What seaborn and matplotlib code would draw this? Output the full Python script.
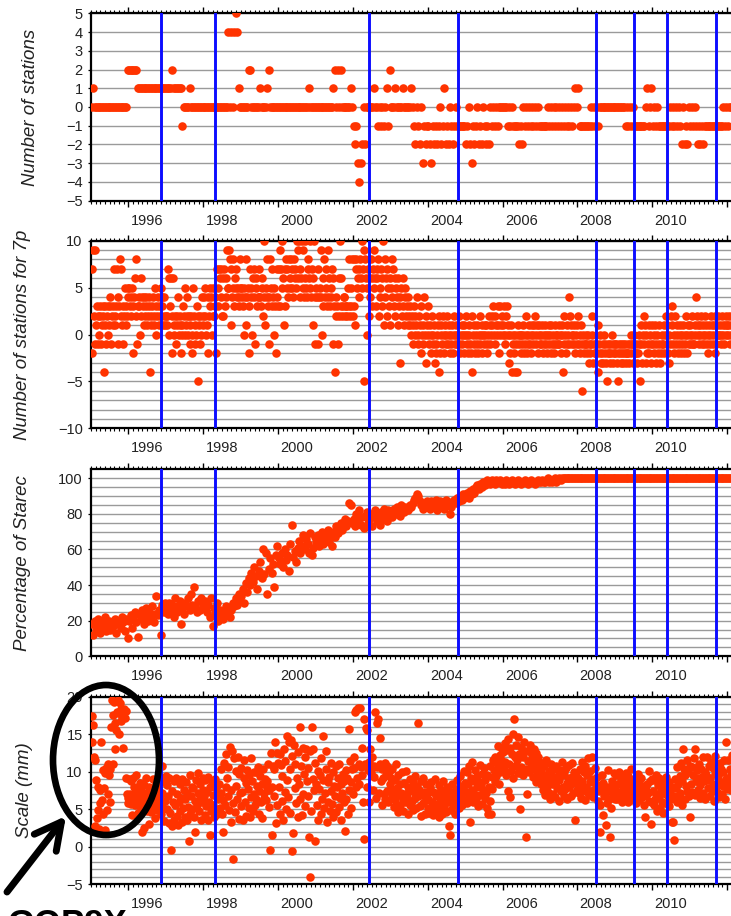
import numpy as np
import matplotlib
matplotlib.use("Agg")
import matplotlib.pyplot as plt
import seaborn as sns
from matplotlib.patches import Ellipse, FancyArrowPatch
from matplotlib.ticker import FixedLocator, FuncFormatter, NullFormatter

plt.rcParams['font.family'] = ['Liberation Sans', 'DejaVu Sans']

# ---------------- data ----------------
START = 1995.02          # first sample (decimal year)
P1_PER_YEAR = 26         # bi-weekly samples
P2_PER_YEAR = 52         # weekly samples
P3_PER_YEAR = 26
P4_PER_YEAR = 52

# Number of stations (bi-weekly)
p1_stations = [
    0,1,0,0,0,0,0,0,0,0,0,0,0, 0,0,0,0,0,0,0,0,0,0,0,0,2,                       # 1995
    2,2,2,2,2,2,1,1,1,1,1,1,1, 1,1,1,1,1,1,1,1,1,1,1,1,1,                       # 1996
    1,1,1,1,2,1,1,1,1,1,1,-1,0, 0,0,0,1,0,0,0,0,0,0,0,0,0,                      # 1997
    0,0,0,0,0,0,0,0,0,0,0,0,0, 0,0,0,0,4,0,4,0,4,5,4,1,0,                       # 1998
    0,0,0,0,0,2,2,0,0,0,0,0,0, 1,0,0,0,0,1,2,0,0,0,0,0,0,                       # 1999
    0,0,0,0,0,0,0,0,0,0,0,0,0, 0,0,0,0,0,0,0,0,1,0,0,0,0,                       # 2000
    0,0,0,0,0,0,0,0,0,0,0,0,1, 2,0,2,0,2,0,0,0,0,0,0,1,0,                       # 2001
    -1,-2,-1,-3,-4,-3,-2,0,-2,0,0,0,0, 0,1,0,0,-1,0,-1,0,-1,0,1,-1,2,           # 2002
    0,0,0,1,0,0,0,0,1,0,0,0,0, 0,1,0,-1,-2,0,-1,-2,0,-3,-1,-2,-1,               # 2003
    -1,-2,-3,-1,-2,-1,-2,-1,0,-2,-1,1,-2, -1,-2,0,-1,-2,-1,0,-1,-1,-1,-1,-1,-1, # 2004
    -2,-1,0,-2,-3,-1,-2,-1,0,-2,-1,-2,0, -1,-2,-1,-2,0,-1,0,-1,0,-1,0,0,0,      # 2005
    0,0,0,-1,0,-1,0,-1,-1,-1,-1,-2,-1, -2,0,-1,0,-1,0,-1,0,-1,0,-1,0,-1,        # 2006
    -1,-1,-1,-1,-1,0,-1,0,-1,0,-1,0,-1, 0,-1,0,-1,0,-1,0,-1,0,-1,0,1,0,         # 2007
    1,-1,-1,-1,-1,-1,-1,-1,-1,0,-1,0,-1, 0,-1,0,0,0,0,0,0,0,0,0,0,0,            # 2008
    0,0,0,0,0,0,0,-1,0,-1,0,-1,0, -1,-1,-1,-1,-1,-1,-1,-1,0,1,-1,0,1,           # 2009
    -1,0,-1,0,-1,-1,-1,-1,-1,-1,-1,-1,0, -1,0,-1,0,-1,0,-1,-2,0,-2,-1,-2,0,     # 2010
    -1,0,-1,0,-1,-2,-1,-2,-1,-2,-1,-1,-1, -1,-1,-1,-1,-1,-1,-1,-1,-1,-1,0,-1,0, # 2011
    -1,0,0,0,                                                                   # 2012
]

# Number of stations for 7p (weekly)
p2_stations_7p = [
    7,-2,9,2,9,-1,1,3,2,-1,0,3,2, -1,1,2,3,-4,3,1,-1,2,3,0,1,4, 3,-1,2,1,3,7,1,2,3,7,4,-1,3, 8,7,2,1,3,-1,2,5,1,3,2,5,4,            # 1995
    5,3,4,2,5,3,-2,4,6,2,8,-1,3, 4,3,0,6,2,4,3,1,4,2,3,4,1, 2,3,4,-4,2,1,3,4,2,1,5,3,0, 2,4,3,1,2,5,4,3,1,2,4,1,2,               # 1996
    1,2,7,6,0,3,6,-2,2,6,1,0,2, -1,1,2,4,0,1,2,-2,0,1,3,2,0, 5,1,2,4,0,2,1,-1,2,-2,0,5,2, -1,1,0,3,2,-5,1,-1,2,0,4,1,2,          # 1997
    4,2,5,0,1,4,-2,2,5,3,4,0,2, 5,2,3,4,-2,7,5,3,7,6,4,7,2, 6,2,7,3,4,6,9,5,5,9,8,1,7, 4,5,8,3,6,5,7,4,5,3,4,8,5,               # 1998
    5,4,3,0,5,4,1,8,4,5,3,-2,7, 4,5,0,6,7,4,-1,5,6,3,4,7,4, 4,3,6,5,2,4,10,1,5,4,8,3,-1, 4,8,5,3,7,4,0,5,3,-2,7,4,3,            # 1999
    7,3,9,7,10,5,6,1,7,3,8,5,7, 4,8,6,5,8,7,5,4,8,7,6,5,10, 9,6,10,7,4,6,10,5,9,4,6,10,5, 4,7,8,6,10,5,4,7,1,6,10,-1,4,         # 2000
    5,4,-1,7,4,5,9,4,0,6,3,8,4, 7,5,3,9,4,6,3,5,4,7,6,-1,3, -4,2,4,3,-1,2,6,10,3,6,2,3,4, 4,2,3,3,2,5,8,3,2,5,3,8,2,           # 2001
    3,8,1,8,7,5,6,4,7,8,6,10,5, 7,9,-5,8,6,0,5,7,2,6,4,8,3, 6,7,9,5,6,3,7,6,8,2,5,4,7, 6,3,10,1,8,4,6,2,7,5,3,1,6,             # 2002
    5,8,4,7,3,6,2,5,4,6,1,3,-3, 4,5,2,3,6,1,4,5,2,3,1,4,2, 1,3,0,2,1,-1,3,0,2,1,4,0,-1, 2,1,-2,3,0,1,-1,4,0,2,-3,1,0,          # 2003
    3,-1,1,-2,0,2,-1,0,1,-3,-2,-1,0, 1,-4,2,-2,0,1,-1,2,0,-2,1,-1,0, 2,-1,0,1,-2,0,-1,1,-2,0,2,-1,0, 1,-1,0,-1,2,-2,0,1,-1,0,-2,1,0,  # 2004
    2,-1,0,-2,1,0,-1,-2,-4,2,0,1,-1, -2,0,1,-1,-2,0,2,-1,0,1,-2,0,-1, 1,0,1,-1,-2,0,2,1,-1,0,2,1,3, 0,-1,2,1,0,3,1,-2,0,3,1,2,0,   # 2005
    1,3,0,-1,2,3,0,1,-3,0,-2,1,-4, -1,0,-2,-4,0,-1,-4,0,1,-1,0,-2,0, -1,1,0,-2,-1,0,2,-2,-1,0,1,-1,0, -2,1,0,-1,1,2,-1,0,1,-2,0,1,-1,  # 2006
    0,-1,1,-2,0,-1,1,0,-1,-2,0,1,-1, 0,-2,1,-1,0,-1,-2,1,0,-1,0,-1,1, -1,0,-2,1,0,-4,2,-1,0,-2,1,-1,0, -1,4,2,1,-1,0,0,-1,1,-2,0,1,-1,  # 2007
    2,-1,0,-2,1,-6,-1,0,-2,-1,-1,0,-2, -1,0,-3,-2,-1,-1,2,0,-3,-1,-2,-2,-1, -2,1,-4,-1,-2,0,-3,-2,-1,-3,0,-2,-1, -3,-5,-2,-1,-2,-3,-1,-2,0,-1,-3,-2,-1,  # 2008
    -2,-1,-3,-2,-5,-1,-2,-3,-1,-2,-3,-1,-2, -1,-3,-2,-2,-1,-2,-3,-1,0,-2,-1,-1,-3, 0,-2,-1,-2,-3,-2,0,-1,-5,1,-1,-3,0, 2,-1,1,-3,0,-2,-1,1,-2,0,-1,-3,1,  # 2009
    -1,0,-2,1,-3,-1,0,-2,1,-1,-3,-2,0, -1,-1,1,-2,0,2,-1,1,-2,0,-3,-1,2, 3,1,-1,-2,0,2,-1,1,0,-2,-1,0,1, -2,0,-1,1,-2,0,-1,2,-2,0,1,-1,0,  # 2010
    1,-1,0,2,-1,-1,0,1,4,2,0,1,-1, 0,1,2,-1,0,1,-1,0,2,1,-1,0,-2, 1,0,-1,2,1,0,-1,1,-2,2,-1,1,0, 2,0,1,-1,0,2,1,0,-1,1,0,2,1,  # 2011
    1,0,2,-1,1,0,2,                                                                                                           # 2012
]

# Percentage of Starec (bi-weekly)
p3_starec = [
    18,12,20,15,21,17,13,19,16,22,14,18,20, 15,19,17,21,13,18,20,16,22,19,14,21,10,   # 1995
    20,23,16,22,25,19,11,24,21,26,18,23,27, 20,25,22,28,19,24,34,23,26,12,29,25,30,   # 1996
    27,24,30,26,29,22,33,25,28,31,18,27,24, 30,28,33,26,35,29,39,28,25,31,26,33,29,   # 1997
    27,31,25,29,22,33,17,27,24,30,20,26,23, 21,25,28,24,27,22,26,30,28,33,29,35,31,   # 1998
    34,38,30,41,36,44,40,47,42,50,45,38,48, 53,44,60,46,58,35,49,55,47,52,39,57,62,   # 1999
    55,52,58,50,60,54,57,48,63,74,56,59,53, 61,65,58,62,68,60,66,63,58,69,57,61,67,   # 2000
    64,68,62,66,70,63,67,65,71,64,68,62,70, 67,73,69,72,75,71,74,77,73,76,86,85,75,   # 2001
    77,73,80,76,82,74,78,72,79,81,75,77,80, 73,78,82,76,79,74,81,77,83,79,76,82,80,   # 2002
    81,78,83,80,84,82,79,85,83,81,84,83,82, 85,84,86,88,89,91,90,87,85,83,86,84,87,   # 2003
    85,83,87,84,86,88,82,85,87,84,86,83,88, 85,86,80,84,87,88,86,89,87,90,88,91,89,   # 2004
    90,92,89,93,91,94,92,95,96,94,97,95,98, 96,97,99,98,97,99,98,97,99,98,98,99,97,   # 2005
    98,97,99,98,97,98,99,98,97,98,99,98,97, 98,98,99,98,97,98,99,98,98,97,98,99,98,   # 2006
    98,99,98,98,99,100,98,99,98,99,100,98,99, 100,99,100,100,100,100,100,100,100,100,100,100,100,  # 2007
    100,100,100,100,100,100,100,100,100,100,100,100,100, 100,100,100,100,100,100,100,100,100,100,100,100,100,  # 2008
    100,100,100,100,100,100,100,100,100,100,100,100,100, 100,100,100,100,100,100,100,100,100,100,100,100,100,  # 2009
    100,100,100,100,100,100,100,100,100,100,100,100,100, 100,100,100,100,100,100,100,100,100,100,100,100,100,  # 2010
    100,100,100,100,100,100,100,100,100,100,100,100,100, 100,100,100,100,100,100,100,100,100,100,100,100,100,  # 2011
    100,100,100,100,                                                                                         # 2012
]

# Scale (mm) (weekly)
p4_scale = [
    17.4,14,16.2,12,11.5,2.7,8.9,3.8,8,4.9,2.4,5.8,7.5, 14,6.2,10.2,4.4,7.8,2.2,9.8,10.5,4.9,7,11,9.5,6,
    10.3,16,19.5,11,17.5,19.3,16.5,13,15.5,18,17.8,19.6,15, 19.2,16.8,18.3,17.3,13.2,17.8,18.4,17.1,9.2,18.1,7,6.5,5.8,  # 1995
    9,7,5.7,8.8,4.2,9.2,6.5,8,5.5,7.3,9.5,6.8,4.5, 7.8,6,8.5,5,7.4,2,6.6,8.2,2.5,5.8,7.2,9.2,4.8,
    6.9,3,8,5.3,7.6,4.6,6.2,9,5.5,7,3.8,8.4,6.3, 4.9,7.7,5.8,9.3,6.6,4.3,10.7,7.1,5.2,8.6,3.4,6.1,9.4,  # 1996
    8.2,5,6.8,3.2,9.1,4.5,-0.5,7.4,2.8,6,8.8,3.5,5.6, 9.2,4.1,7,2.9,5.9,8.3,4.7,6.5,3.3,9,5.2,7.6,4,
    6.3,8.6,3.6,7.1,5.3,0.8,9.6,4.4,6.8,8,5,7.8,3.9, 6.1,2,8.9,5.6,7.2,9.8,4.8,6.4,8.3,3.5,5.9,7.5,9.1,  # 1997
    6.7,4.2,8.9,5.4,7.3,3.6,9.3,6,1.5,7.9,4.7,8.5,5.5, 6.9,3.9,9,5,7.8,4.4,7,6.3,8.4,5.1,10.3,7.1,4.3,
    2,6.2,11.2,5.6,12.3,8,9.2,6.8,10.6,4.9,13.3,7.5,3.3, 12.7,5.8,-1.7,11.8,4.6,8.1,10.1,6.4,12,3.7,9.7,7.2,5.4,  # 1998
    10.5,7.3,3.6,9.2,11.5,6,8.5,4.1,10.2,7.7,5.2,9.6,3.9, 11.8,6.6,8.8,4.8,10,7,5.6,9.9,6.3,8.1,10.6,4.4,7.4,
    9.4,5.9,8.3,3.8,10.3,7.1,6.5,9,6.2,8.7,8,11,5.3, 7.6,-0.4,12.5,1.6,7.9,10.8,6.7,10.4,14,3.2,5.6,12.5,11.2,  # 1999
    8,12.3,4.3,10.9,6.1,9.4,3.5,13,7.3,11.4,5,8.9,14.7, 6.6,14,10.3,4.5,14.2,-0.6,12.1,1.8,13.5,7.8,11,5.8,9.2,
    3.9,12.6,8.4,6.3,16,10.7,4.2,13.2,7,9.7,12,5.4,13, 8.8,6.8,10.5,1.3,-4,12.8,4.7,16,9,13,7.6,11.2,0.8,  # 2000
    8.3,5.5,10.1,3.6,7.7,9.6,4.4,11.8,6.3,8.9,14.7,5.1,7.2, 10.4,12.7,3.3,8.6,6,9.3,4.8,11.2,7.4,5.7,9.9,3.9,8.1,
    6.8,10.7,4.6,7.9,9.1,5.3,11,6.5,8.4,3.5,7.1,9.7,5.9, 8.8,2.1,10.2,6.4,9.2,4.3,15.7,7.6,11.4,5.2,8.6,10.3,7,  # 2001
    10.5,12,18,7.9,18.2,9.1,18.5,11,8.4,18.5,10.6,13.2,9.5, 6,1,17,11,15.8,8,15.5,10.2,11.3,6,13,9.8,10.5,
    12,7.5,10.8,9.3,18,6.5,16.5,10.6,17,7.2,14.5,11,8.7, 5.6,10.3,9.1,7,11.2,6.3,9.5,10.8,7.4,5.9,9.9,8.3,10.4,  # 2002
    9.2,6.8,10.4,7.5,5.3,8.9,6.2,11,7.8,4.6,9.6,6.9,8.3, 5.5,7.2,9.9,6.4,4.8,8.5,7,5.9,10.1,6.6,8,4.4,7.4,
    9,5.6,7.8,6.1,8.7,4.9,7.3,9.4,6.5,5.2,8.1,6.8,16.5, 7.6,5.4,8.8,4.1,6.9,9.1,5.8,7.3,4.3,8.4,6.2,7.1,5.1,  # 2003
    6.4,4.5,7.9,5.2,8.6,6,4.2,7.3,5.5,9,6.7,4.8,7.1, 5.7,8.2,3.9,6.5,5,7.6,4.4,8.8,6.2,5.3,7,4.6,6.9,
    8,5.9,2.7,7.4,1.5,6.3,4.9,8.4,5.6,7.2,6.6,4.3,7.7, 5.8,8.9,6.4,7.1,5.2,9.4,6.7,8.1,5.5,7.8,10.1,6.2,8.5,  # 2004
    7.3,9.9,5.8,8.4,10.8,6.7,3.3,9.1,7.6,11.3,5.9,8.8,7, 10.2,6.3,9.4,7.9,5.4,8.6,10.9,6.9,8.2,9.7,5.7,7.5,10.5,
    6.5,8.9,7.2,9.6,5.1,4.4,8,10.7,6.1,4.4,9.3,7.7,11.5, 10.2,8.6,12,9.4,11.1,13.4,10.5,8.3,12.2,9.9,11.6,13,10.8,  # 2005
    12.6,10.4,13.8,11.3,9.6,12.9,7.4,14.3,11,6.6,13.1,10.1,12.4, 15,9.2,17,12,10.8,13.6,11.5,9.8,14.6,12.3,5,10.6,13.3,
    9.7,11.9,9.5,13.9,12.7,10.3,1.3,7,11.4,12.8,9.9,13.5,11.1, 10.4,12.2,9.3,11.7,13,10.9,8.6,12.5,10,11.9,9.1,11.3,10.7,  # 2006
    10.3,8.4,11.2,7.6,9.5,10.8,6.9,9,11.5,8.1,7.3,10.1,8.8, 6.4,9.7,11,8.3,7,10.4,9.2,6.6,8.6,10.7,7.8,9.4,6.1,
    8.9,10.2,7.4,9.6,11.3,8,6.8,9.9,7.7,10.5,8.5,6.3,9.1, 7.9,10.9,8.2,6.7,9.3,11.1,7.2,8.7,10,3.5,9.8,8.4,7.5,  # 2007
    9.2,7.1,10.4,8.3,6.5,11.3,8.8,7.6,9.9,6.2,10.7,8,7.3, 9.5,11.8,6.9,8.6,10.1,7.4,12,9,6.6,8.9,10.5,7.7,8.2,
    9.3,6.1,8.2,7.4,2,5.5,7.9,9.6,4.2,8.5,6.8,7,7.2, 2.9,5.8,8,10.2,6.4,7.5,1.3,5.2,8.7,6.9,7.8,9.8,6.3,  # 2008
    7.8,9.5,6.3,8.4,7,10,6.7,8.9,7.3,5.9,9.2,7.6,8.5, 6.5,9.8,7.1,8.2,6,9.4,7.7,8.7,6.4,10.3,7.2,8,6.8,
    9,7.5,5.8,8.6,7,9.7,6.2,8.3,7.4,7.8,9.1,6.6,8.1, 7.3,5.5,4,6.9,7.6,8.4,7.1,10.1,6.1,8.8,3,5.9,9,  # 2009
    7.4,5.6,8.9,6.3,9.5,7,4.8,8.2,6.6,9.1,5.2,7.7,8.5, 6,4.5,8.8,7.2,5.8,9.3,6.9,8,7.5,5.4,8.6,7.1,6.3,
    3.3,7.9,3.3,0.9,6.7,9,7.8,5.9,10.6,8.3,6.2,9.4,7.1, 11.2,5.5,8.7,13,10.3,6.4,9.6,8.1,11.5,7.4,9.9,6.8,10.7,  # 2010
    4,8.4,10.6,7.3,9.5,11.8,6.9,13,8.8,10.2,7.6,9.1,11, 8.2,6.5,10.4,9.3,7.1,12,8.7,10,6.3,9.6,12,7.8,8.9,
    10.8,6.8,9.2,11.3,7.5,8.4,10.5,6.1,9.7,12.1,8,7.3,10.1, 9.4,6.6,11.2,8.6,10.3,7,9.9,8.1,11.6,6.4,9,14,7.7,  # 2011
    9.2,11.5,8.3,10.4,7.5,9.6,12.2,                                                                      # 2012
]

# Vertical blue event lines (decimal years)
blue_lines = [1996.87, 1998.31, 2002.43, 2004.82, 2008.50, 2009.52, 2010.40, 2011.72]
year_labels = [1996, 1998, 2000, 2002, 2004, 2006, 2008, 2010]

y_labels = ["Number of stations", "Number of stations for 7p",
            "Percentage of Starec", "Scale (mm)"]

# ---------------- figure ----------------
W, H = 731, 916
fig = plt.figure(figsize=(W / 100, H / 100), dpi=100)

X0, X1 = 1995.0, 1995.0 + 640 / 37.41
DOT = "#ff3300"
BLUE = "#0d0dff"
GRID = "#9a9a9a"
TXT = "#222222"

panels = [
    dict(v=p1_stations, per=P1_PER_YEAR, ylim=(-5, 5), ymaj=np.arange(-5, 6, 1), ygrid=1, top=13.3, bot=200.7, lx=-0.082),
    dict(v=p2_stations_7p, per=P2_PER_YEAR, ylim=(-10, 10), ymaj=np.arange(-10, 11, 5), ygrid=1, top=240.7, bot=428.3, lx=-0.093),
    dict(v=p3_starec, per=P3_PER_YEAR, ylim=(0, 105.2), ymaj=np.arange(0, 101, 20), ygrid=5, top=469.0, bot=656.3, lx=-0.093),
    dict(v=p4_scale, per=P4_PER_YEAR, ylim=(-5, 20), ymaj=np.arange(-5, 21, 5), ygrid=1, top=696.7, bot=884.0, lx=-0.090),
]


def year_fmt(x, pos):
    yr = int(np.floor(x + 1e-9))
    if abs(x - yr - 0.5) < 1e-6 and yr in year_labels:
        return str(yr)
    return ""


for p, lab in zip(panels, y_labels):
    ax = fig.add_axes([91 / W, 1 - p["bot"] / H, 640 / W, (p["bot"] - p["top"]) / H])
    vals = np.asarray(p["v"], dtype=float)
    t = START + np.arange(len(vals)) / p["per"]
    sns.scatterplot(x=t, y=vals, ax=ax, color=DOT, s=38, linewidth=0, zorder=3, legend=False)
    for b in blue_lines:
        ax.axvline(b, color=BLUE, lw=2.1, zorder=4)

    ax.set_xlim(X0, X1)
    ax.set_ylim(*p["ylim"])
    ax.set_xlabel("")
    ax.set_ylabel(lab, fontsize=13.5, style="italic", color=TXT)
    ax.yaxis.set_label_coords(p["lx"], 0.5)

    # y ticks & grid
    ax.yaxis.set_major_locator(FixedLocator(p["ymaj"]))
    gmin, gmax = p["ylim"][0], min(p["ylim"][1], 100 if p["ygrid"] == 5 else p["ylim"][1])
    ax.yaxis.set_minor_locator(FixedLocator(np.arange(gmin, gmax + 0.01, p["ygrid"])))
    ax.yaxis.set_major_formatter(FuncFormatter(lambda y, pos: f"{int(round(y))}".replace("-", "\u2212")))
    ax.grid(axis="y", which="both", color=GRID, lw=1.0)
    ax.grid(axis="x", visible=False)
    ax.set_axisbelow(True)

    # x ticks: long ticks at even years, short ticks every 1/8 yr, labels centred in the year
    ax.xaxis.set_major_locator(FixedLocator(np.arange(1996, 2013, 2)))
    ax.xaxis.set_major_formatter(NullFormatter())
    ax.xaxis.set_minor_locator(FixedLocator(np.arange(1995, 2012.2, 0.125)))
    ax.xaxis.set_minor_formatter(FuncFormatter(year_fmt))

    ax.tick_params(axis="x", which="major", direction="out", length=4.5, width=1.0,
                   top=True, bottom=True, labelbottom=False, color="black")
    ax.tick_params(axis="x", which="minor", direction="out", length=2.3, width=0.8,
                   top=True, bottom=True, labelbottom=True, labelsize=10.5, pad=7,
                   labelcolor=TXT, color="black")
    ax.tick_params(axis="y", which="major", direction="out", length=2.4, width=0.9,
                   left=True, right=False, labelsize=10.5, pad=3.6, labelcolor=TXT)
    ax.tick_params(axis="y", which="minor", length=0, left=False, right=False)

    for side in ("left", "top", "bottom"):
        ax.spines[side].set_visible(True)
        ax.spines[side].set_linewidth(1.6)
        ax.spines[side].set_color("black")
    ax.spines["right"].set_visible(False)

# ---------------- annotation: ellipse, arrow and label ----------------
inch = fig.dpi_scale_trans
fig.add_artist(Ellipse(((106) / 100, (H - 760) / 100), 1.06, 1.50, fill=False,
                       edgecolor="black", lw=4.8, transform=inch, clip_on=False, zorder=10))
fig.add_artist(FancyArrowPatch((7 / 100, (H - 892) / 100), (66 / 100, (H - 816) / 100),
                               arrowstyle="->,head_length=0.95,head_width=0.5", mutation_scale=20,
                               lw=5, color="black", shrinkA=0, shrinkB=0, transform=inch,
                               zorder=10))
# label partly below the bottom edge, as in the reference
fig.text(8 / W, -18 / H, "GOP9X", fontsize=25, fontweight="bold", color="black",
         ha="left", va="baseline")

fig.savefig("out.png", dpi=100)
